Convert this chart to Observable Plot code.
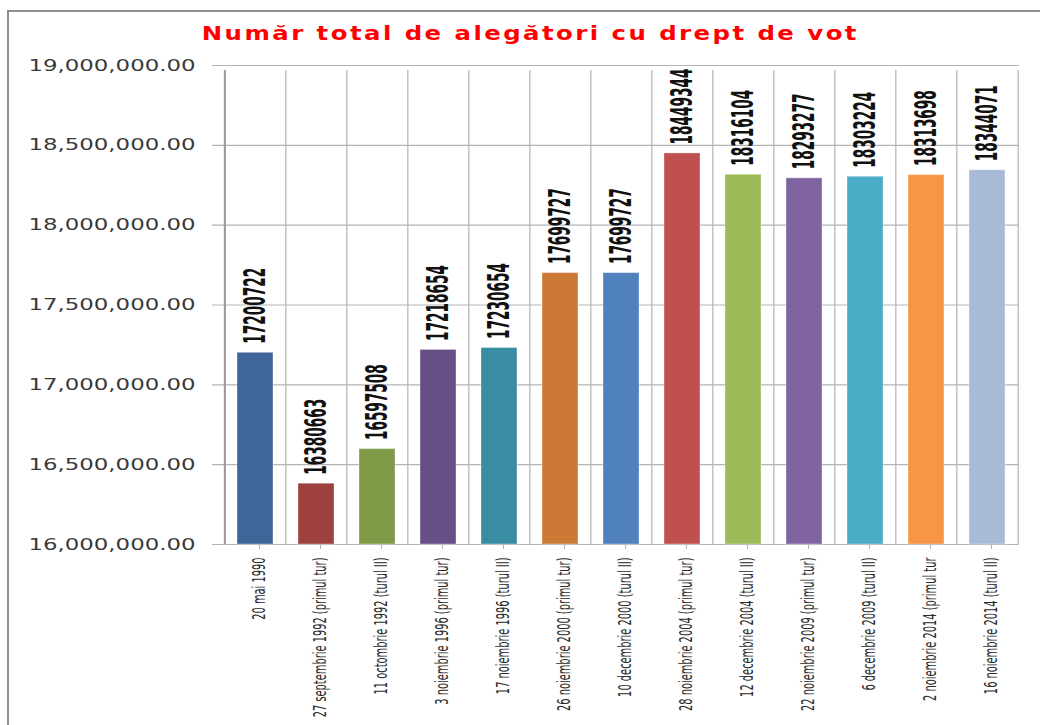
<!DOCTYPE html>
<html>
<head>
<meta charset="utf-8">
<script src="https://cdn.jsdelivr.net/npm/d3@7"></script>
<script src="https://cdn.jsdelivr.net/npm/@observablehq/plot@0.6"></script>
<style>
  html, body { margin: 0; padding: 0; background: #fff; width: 1040px; height: 725px; overflow: hidden; }
  #frame { position: absolute; left: 7px; top: 10px; width: 1100px; height: 800px; border: 2px solid #8e8e8e; box-sizing: border-box; }
  #title { position: absolute; left: 0; top: 21px; width: 1060px; text-align: center; font: bold 20px/24px "DejaVu Sans", Verdana, sans-serif; letter-spacing: 2px; color: #ff0000; }
  #title span { display: inline-block; transform: scaleX(1.22); transform-origin: center; }
  #chart { position: absolute; left: 0; top: 0; }
</style>
</head>
<body>
<div id="frame"></div>
<div id="title"><span>Număr total de alegători cu drept de vot</span></div>
<div id="chart"></div>
<script>
const categories = [
  "20 mai 1990",
  "27 septembrie 1992 (primul tur)",
  "11 octombrie 1992 (turul II)",
  "3 noiembrie 1996 (primul tur)",
  "17 noiembrie 1996 (turul II)",
  "26 noiembrie 2000 (primul tur)",
  "10 decembrie 2000 (turul II)",
  "28 noiembrie 2004 (primul tur)",
  "12 decembrie 2004 (turul II)",
  "22 noiembrie 2009 (primul tur)",
  "6 decembrie 2009 (turul II)",
  "2 noiembrie 2014 (primul tur",
  "16 noiembrie 2014 (turul II)"
];
const values = [17200722, 16380663, 16597508, 17218654, 17230654, 17699727, 17699727, 18449344, 18316104, 18293277, 18303224, 18313698, 18344071];
const colors = ["#3f6699", "#9e403e", "#7e9a46", "#684e86", "#3a8ca3", "#cc7935", "#4f81bd", "#c0504d", "#9bbb59", "#8064a2", "#4bacc6", "#f79646", "#a9bad7"];
const yDomain = [16000000, 19000000];
const yTicks = [16000000, 16500000, 17000000, 17500000, 18000000, 18500000, 19000000];

const data = categories.map((c, i) => ({category: c, value: values[i]}));

const W = 1040, H = 725, mL = 222, mR = 21, mT = 65, mB = 181;
const step = (W - mL - mR) / categories.length;
const gridColor = "#b3b3b3";

const chart = Plot.plot({
  width: W,
  height: H,
  marginLeft: mL,
  marginRight: mR,
  marginTop: mT,
  marginBottom: mB,
  x: {domain: categories, paddingInner: 0.41, paddingOuter: 0.205, label: null},
  y: {domain: yDomain, label: null},
  color: {type: "ordinal", domain: categories, range: colors},
  marks: [
    Plot.ruleY(yTicks, {y: d => d, stroke: gridColor, strokeWidth: 1.2, insetLeft: -10}),
    Plot.ruleX(categories, {x: d => d, dx: -step / 2, y1: yDomain[0], y2: yDomain[1], stroke: gridColor, strokeWidth: 1.2, insetBottom: -5}),
    Plot.ruleX([categories[categories.length - 1]], {x: d => d, dx: step / 2, y1: yDomain[0], y2: yDomain[1], stroke: gridColor, strokeWidth: 1.2, insetBottom: -5}),
    Plot.barY(data, {x: "category", y1: yDomain[0], y2: "value", fill: "category", stroke: "#ffffff", strokeOpacity: 0.35, strokeWidth: 1}),
    Plot.ruleX([categories[0]], {x: d => d, dx: -step / 2, y1: yDomain[0], y2: yDomain[1], stroke: "#9a9a9a", strokeWidth: 2, insetBottom: -5}),
    Plot.text(data, {
      x: "category", y: "value", text: d => String(d.value),
      rotate: -90, textAnchor: "start", lineAnchor: "middle", dy: -9,
      fontSize: 31, fontWeight: "bold", fill: "#111"
    }),
    Plot.axisY({
      ticks: yTicks, tickFormat: d3.format(",.2f"), tickSize: 0, tickPadding: 27,
      fontSize: 16, fill: "#3a3a3a", label: null
    }),
    Plot.axisX({
      tickRotate: -90, tickSize: 5, tickPadding: 8, stroke: gridColor,
      fontSize: 17, fill: "#2a2a2a", label: null, dx: 4
    })
  ],
  style: {fontFamily: "'DejaVu Sans', Verdana, sans-serif", background: "transparent", overflow: "visible"}
});

document.getElementById("chart").appendChild(chart);

// typography: reference uses horizontally stretched Verdana-like y labels and narrow fonts elsewhere
const svg = d3.select(chart);
svg.selectAll("g[aria-label='y-axis tick label'] text")
  .attr("textLength", 167).attr("lengthAdjust", "spacingAndGlyphs");
svg.selectAll("g[aria-label='x-axis tick label'] text").each(function() {
  const len = this.getComputedTextLength();
  d3.select(this).attr("textLength", len * 0.58).attr("lengthAdjust", "spacingAndGlyphs");
});
svg.selectAll("g[aria-label='text'] text").each(function() {
  const len = this.getComputedTextLength();
  d3.select(this).attr("textLength", len * 0.44).attr("lengthAdjust", "spacingAndGlyphs");
});
</script>
</body>
</html>
